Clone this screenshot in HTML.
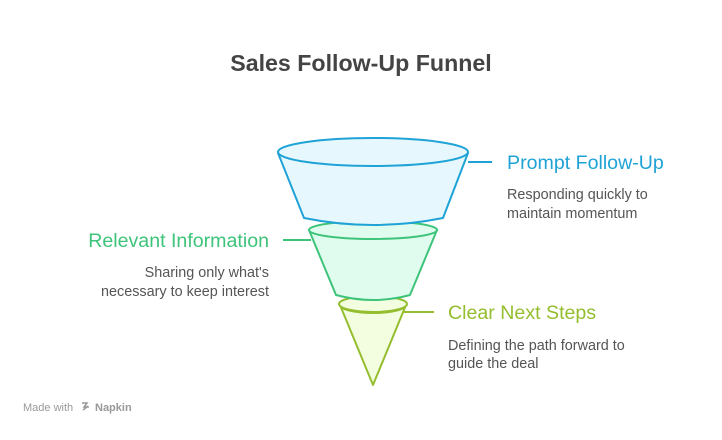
<!DOCTYPE html>
<html><head><meta charset="utf-8"><style>
body{margin:0;background:#fff;width:722px;height:435px;overflow:hidden;font-family:"Liberation Sans",sans-serif}
</style></head><body>
<svg width="722" height="435" xmlns="http://www.w3.org/2000/svg" font-family="Liberation Sans, sans-serif">
<text x="361" y="71" text-anchor="middle" font-size="23.2" font-weight="bold" fill="#444">Sales Follow-Up Funnel</text>
<path d="M340 305 L373 385 L406 305 A33 8 0 0 1 340 305 Z" fill="#f3fde0" stroke="#94be2e" stroke-width="2" stroke-linejoin="round"/>
<ellipse cx="373" cy="304" rx="34" ry="8" fill="#f3fde0" stroke="#94be2e" stroke-width="2"/>
<path d="M309 230 L336 295 Q373 305 410 295 L437 230 Z" fill="#e0fcee" stroke="#3ec47a" stroke-width="2" stroke-linejoin="round"/>
<ellipse cx="373" cy="230" rx="64" ry="9" fill="#e0fcee" stroke="#3ec47a" stroke-width="2"/>
<path d="M278 153 L304 218 Q373 232 443 218 L468 153 Z" fill="#e6f7fd" stroke="#1fa3d6" stroke-width="2" stroke-linejoin="round"/>
<ellipse cx="373" cy="152" rx="95" ry="14" fill="#e6f7fd" stroke="#1fa3d6" stroke-width="2"/>
<line x1="468" y1="162" x2="492" y2="162" stroke="#1fa3d6" stroke-width="2"/>
<line x1="283" y1="240" x2="311" y2="240" stroke="#3ec47a" stroke-width="2"/>
<line x1="404" y1="312" x2="434" y2="312" stroke="#94be2e" stroke-width="2"/>
<text x="507" y="169" font-size="19.6" fill="#1fa3d6">Prompt Follow-Up</text>
<text x="507" y="199" font-size="14.4" fill="#555">Responding quickly to</text>
<text x="507" y="218" font-size="14.4" fill="#555">maintain momentum</text>
<text x="269" y="247" font-size="19.6" fill="#3ec47a" text-anchor="end">Relevant Information</text>
<text x="269" y="277" font-size="14.4" fill="#555" text-anchor="end">Sharing only what's</text>
<text x="269" y="296" font-size="14.4" fill="#555" text-anchor="end">necessary to keep interest</text>
<text x="448" y="319" font-size="19.6" fill="#94be2e">Clear Next Steps</text>
<text x="448" y="350" font-size="14.4" fill="#555">Defining the path forward to</text>
<text x="448" y="368" font-size="14.4" fill="#555">guide the deal</text>
<text x="23" y="411" font-size="11" fill="#999">Made with</text>
<text x="95" y="411" font-size="11" fill="#999" font-weight="bold">Napkin</text>
<path d="M82 403 l5 0 l-3 4 l5 0 M83 410 l5 -4" stroke="#999" stroke-width="1.5" fill="none"/>
</svg>
</body></html>
